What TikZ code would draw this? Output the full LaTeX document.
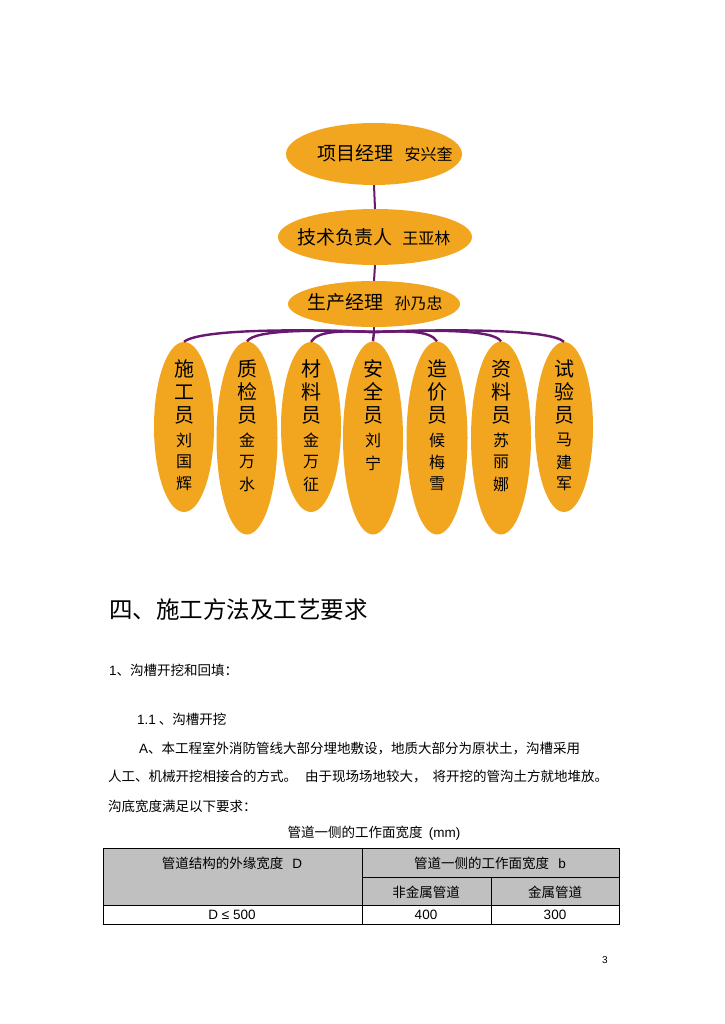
\documentclass[tikz,border=0pt]{standalone}
\usepackage{fontspec}
\setmainfont{Noto Sans CJK SC}
\newfontfamily\lat{Liberation Sans}
\usetikzlibrary{shapes.geometric}
\definecolor{orgfill}{RGB}{242,166,32}
\definecolor{linkpurple}{RGB}{104,24,112}
\definecolor{hdrgray}{RGB}{192,192,192}
\newcommand{\fs}[1]{\fontsize{#1}{#1}\selectfont}
\begin{document}
\begin{tikzpicture}[x=1pt,y=-1pt,
  oval/.style={ellipse, fill=orgfill, draw=none, inner sep=0pt},
  link/.style={draw=linkpurple, line width=2.4pt},
  stem/.style={draw=linkpurple, line width=2pt},
  rolech/.style={font=\fs{20}, inner sep=0pt},
  namech/.style={font=\fs{16}, inner sep=0pt},
  body/.style={font=\fs{13.5}, anchor=west, inner sep=0pt},
  cell/.style={font=\fs{13.5}, inner sep=0pt},
  grid/.style={draw=black, line width=0.7pt}]
\useasboundingbox[fill=white] (0,0) rectangle (724,1024);

% top chain
\node[oval, minimum width=176pt, minimum height=62pt] (pm) at (374,154) {};
\node[oval, minimum width=194pt, minimum height=56pt] (tech) at (375,237) {};
\node[oval, minimum width=172pt, minimum height=46pt] (prod) at (374,304) {};
\node[font=\fs{19}, inner sep=0pt] (pmt) at (385,153) {项目经理\hspace{0.6em}{\fs{16}安兴奎}};
\node[font=\fs{19}, inner sep=0pt] (techt) at (374,237) {技术负责人\hspace{0.5em}{\fs{16}王亚林}};
\node[font=\fs{19}, inner sep=0pt] (prodt) at (375,302) {生产经理\hspace{0.6em}{\fs{16}孙乃忠}};

% bottom ellipses
\node[oval, minimum width=60pt, minimum height=170pt] (c1) at (184,427) {};
\node[oval, minimum width=61pt, minimum height=193pt] (c2) at (247,438) {};
\node[oval, minimum width=60pt, minimum height=170pt] (c3) at (311,427) {};
\node[oval, minimum width=60pt, minimum height=193pt] (c4) at (373,438) {};
\node[oval, minimum width=61pt, minimum height=193pt] (c5) at (437,438) {};
\node[oval, minimum width=60pt, minimum height=193pt] (c6) at (501,438) {};
\node[oval, minimum width=58pt, minimum height=170pt] (c7) at (564,427) {};

% connectors
\coordinate (hub) at (374,332);
\draw[stem] (pm.south) -- (tech.north);
\draw[stem] (tech.south) -- (prod.north);
\draw[stem] (prod.south) -- (hub);
\draw[link] (hub) -- (c4.north);
\draw[link] (hub) .. controls (300,329) and (200,329) .. (c1.north);
\draw[link] (hub) .. controls (320,330) and (255,329) .. (c2.north);
\draw[link] (hub) .. controls (345,331) and (318,330) .. (c3.north);
\draw[link] (hub) .. controls (403,331) and (430,330) .. (c5.north);
\draw[link] (hub) .. controls (430,330) and (493,329) .. (c6.north);
\draw[link] (hub) .. controls (450,329) and (550,329) .. (c7.north);

% column texts
\foreach \n/\x/\a/\b/\c/\d/\e/\f in {
  1/184/施/工/员/刘/国/辉,
  2/247/质/检/员/金/万/水,
  3/311/材/料/员/金/万/征,
  5/437/造/价/员/候/梅/雪,
  6/501/资/料/员/苏/丽/娜,
  7/564/试/验/员/马/建/军}{
  \node[rolech] (r\n a) at (\x,369) {\a};
  \node[rolech] (r\n b) at (\x,392) {\b};
  \node[rolech] (r\n c) at (\x,415) {\c};
  \node[namech] (n\n a) at (\x,440) {\d};
  \node[namech] (n\n b) at (\x,462) {\e};
  \node[namech] (n\n c) at (\x,484) {\f};
}
\node[rolech] (r4a) at (373,369) {安};
\node[rolech] (r4b) at (373,392) {全};
\node[rolech] (r4c) at (373,415) {员};
\node[namech] (n4a) at (373,440) {刘};
\node[namech] (n4b) at (373,463) {宁};

% text body
\node[font=\fs{23.5}, anchor=west, inner sep=0pt] (h4) at (109,610) {四、施工方法及工艺要求};
\node[body] (s1) at (109,670) {{\lat 1}、沟槽开挖和回填：};
\node[body] (s11) at (137,719) {{\lat 1.1} 、沟槽开挖};
\node[body] (p1) at (139,748) {{\lat A}、本工程室外消防管线大部分埋地敷设，地质大部分为原状土，沟槽采用};
\node[body] (p2) at (108,776) {人工、机械开挖相接合的方式。\hspace{8pt}由于现场场地较大，\hspace{6pt}将开挖的管沟土方就地堆放。};
\node[body] (p3) at (108,806) {沟底宽度满足以下要求：};
\node[cell] (cap) at (374,833) {管道一侧的工作面宽度\ \ {\lat (mm)}};

% table
\fill[hdrgray] (103,848) rectangle (619,905);
\draw[grid] (103,848) rectangle (619,924);
\draw[grid] (362,848) -- (362,924);
\draw[grid] (362,877) -- (619,877);
\draw[grid] (103,905) -- (619,905);
\draw[grid] (491,877) -- (491,924);
\node[cell] (t1) at (232,863) {管道结构的外缘宽度\ \ \ {\lat D}};
\node[cell] (t2) at (490,863) {管道一侧的工作面宽度\ \ \ {\lat b}};
\node[cell] (t3) at (426,892) {非金属管道};
\node[cell] (t4) at (555,892) {金属管道};
\node[cell, font=\fs{13.5}\lat] (t5) at (232,915) {D ≤ 500};
\node[cell, font=\fs{13.5}\lat] (t6) at (426,915) {400};
\node[cell, font=\fs{13.5}\lat] (t7) at (555,915) {300};
\node[font=\fs{10}\lat, inner sep=0pt] (pg) at (605,960) {3};
\end{tikzpicture}
\end{document}
